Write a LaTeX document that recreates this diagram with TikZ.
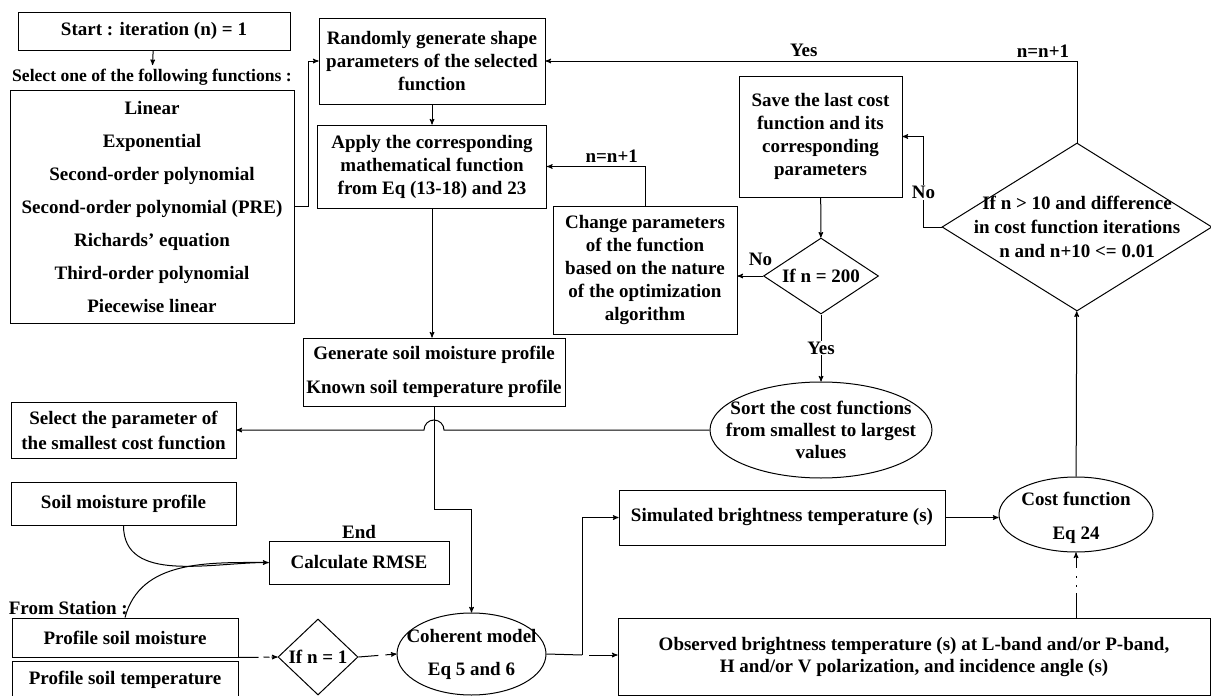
\documentclass[tikz,border=0pt]{standalone}
\usepackage{fontspec}
\setmainfont{Liberation Serif}
\usetikzlibrary{arrows,shapes.geometric,positioning}

\begin{document}
\begin{tikzpicture}[x=1pt,y=1pt,>=stealth',line width=1pt,
                every node/.style={font=\bfseries\fontsize{19}{23}\selectfont,align=center},
                box/.style={rectangle,draw,inner sep=2pt},
                decision/.style={diamond,draw,inner sep=0pt},
                term/.style={ellipse,draw,inner sep=0pt},
                mid/.style={fill=white,inner sep=1pt}]
                \useasboundingbox (0,0) rectangle (1211,-696);

                \node[box,minimum width=272,minimum height=38] (start) at (154,-31) {Start : iteration (n) = 1};
                \node[font=\bfseries\fontsize{17.6}{21}\selectfont] (sel) at (152,-77) {Select one of the following functions :};
                \node[box,minimum width=284,minimum height=233,font=\bfseries\fontsize{19}{33}\selectfont] (funcs) at (152,-206.5)
                    {Linear\\Exponential\\Second-order polynomial\\Second-order polynomial (PRE)\\Richards' equation\\Third-order polynomial\\Piecewise linear};
                \node[box,minimum width=226,minimum height=86] (rand) at (432,-61) {Randomly generate shape\\parameters of the selected\\function};
                \node[box,minimum width=229,minimum height=83,below=20pt of rand] (apply) {Apply the corresponding\\mathematical function\\from Eq (13-18) and 23};
                \node[box,minimum width=184,minimum height=128] (change) at (645,-270) {Change parameters\\of the function\\based on the nature\\of the optimization\\algorithm};
                \node[box,minimum width=163,minimum height=121] (save) at (820.5,-136.5) {Save the last cost\\function and its\\corresponding\\parameters};
                \node[decision,minimum width=115,minimum height=76,label={center:If n = 200}] (if200) at (821,-276) {};
                \node[decision,minimum width=270,minimum height=168,
                    label={[font=\bfseries\fontsize{19}{24}\selectfont]center:If n > 10 and difference\\in cost function iterations\\n and n+10 <= 0.01}] (cond) at (1077,-227) {};
                \node[box,minimum width=262,minimum height=68,font=\bfseries\fontsize{19}{34}\selectfont] (gen) at (434,-372) {Generate soil moisture profile\\Known soil temperature profile};
                \node[term,minimum width=222,minimum height=96,
                    label={[font=\bfseries\fontsize{19}{22}\selectfont]center:Sort the cost functions\\from smallest to largest\\values}] (sort) at (821,-430) {};
                \node[box,minimum width=225,minimum height=56,font=\bfseries\fontsize{19}{25}\selectfont] (select) at (123.5,-430) {Select the parameter of\\the smallest cost function};
                \node[box,minimum width=225,minimum height=43,below=23pt of select] (soil) {Soil moisture profile};
                \node[box,minimum width=180,minimum height=43,label={[yshift=-2pt]above:End}] (rmse) at (359,-562.5) {Calculate RMSE};
                \node[anchor=west] (station) at (5,-608) {From Station :};
                \node[box,minimum width=226,minimum height=39] (pmoist) at (125,-637.5) {Profile soil moisture};
                \node[box,minimum width=226,minimum height=38,below=3pt of pmoist] (ptemp) {Profile soil temperature};
                \node[decision,minimum width=80,minimum height=76,label={center:If n = 1}] (if1) at (318,-657) {};
                \node[term,minimum width=149,minimum height=82,
                    label={[font=\bfseries\fontsize{19}{33}\selectfont]center:Coherent model\\Eq 5 and 6}] (coh) at (471.5,-654) {};
                \node[box,minimum width=326,minimum height=55] (sim) at (782,-517.5) {Simulated brightness temperature (s)};
                \node[term,minimum width=154,minimum height=75,
                    label={[font=\bfseries\fontsize{19}{34}\selectfont,yshift=-3pt]center:Cost function\\Eq 24}] (cost) at (1076,-514.5) {};
                \node[box,minimum width=592,minimum height=77,font=\bfseries\fontsize{19}{22}\selectfont] (obs) at (914,-656.5)
                    {Observed brightness temperature (s) at L-band and/or P-band,\\H and/or V polarization, and incidence angle (s)};
                \coordinate (split) at (582,-655);

                \draw[->] (start) -- (sel);
                \draw[->] (funcs.east) -- ++(14,0) |- (rand.west);
                \draw[->] (rand) -- (apply);
                \draw[->] (apply.south) -- (apply.south |- gen.north);
                \draw[->] (change.north) |- node[pos=0.67,above]{n=n+1} (apply.east);
                \draw[->] (if200.west) -- node[pos=0.1,above=6pt]{No} (if200.west -| change.east);
                \draw[->] (save) -- (if200);
                \draw[->] (if200) -- node[mid]{Yes} (sort);
                \draw[->] (cond.west) -- ++(-18,0) |- node[pos=0.19,mid]{No} (save.east);
                \draw[->] (cond.north) |- node[pos=0.532,above]{n=n+1} node[pos=0.757,above]{Yes} (rand.east);
                \draw[->] (cost) -- (cond);
                \draw[->] (sim.east) -- (sim.east -| cost.west);
                \draw[->,dash pattern=on 25pt off 6pt on 2pt off 7pt on 2pt off 8pt on 30pt] (cost.south |- obs.north) -- (cost.south);
                \draw (coh.east) -- (split);
                \draw[->] (split) |- (sim.west);
                \draw[->,dash pattern=on 0pt off 7pt on 30pt] (split) -- (split -| obs.west);
                \draw[->,dash pattern=on 20pt off 5pt on 6pt off 2pt on 20pt] (pmoist.south east) -- (if1.west);
                \draw[->,dash pattern=on 20pt off 7pt on 20pt] (if1.east) -- (coh.west);
                \draw[->] (gen.south) -- ++(0,-103) -| (coh.north);
                \draw[->] (sort.west) -- ([xshift=10pt]sort.west -| gen.south) arc[start angle=0,end angle=180,radius=10pt] -- (select.east);
                \draw[->] (soil.south) to[out=-90,in=180] (rmse.west);
                \draw (pmoist.north) to[out=75,in=180] (rmse.west);
\end{tikzpicture}
\end{document}
